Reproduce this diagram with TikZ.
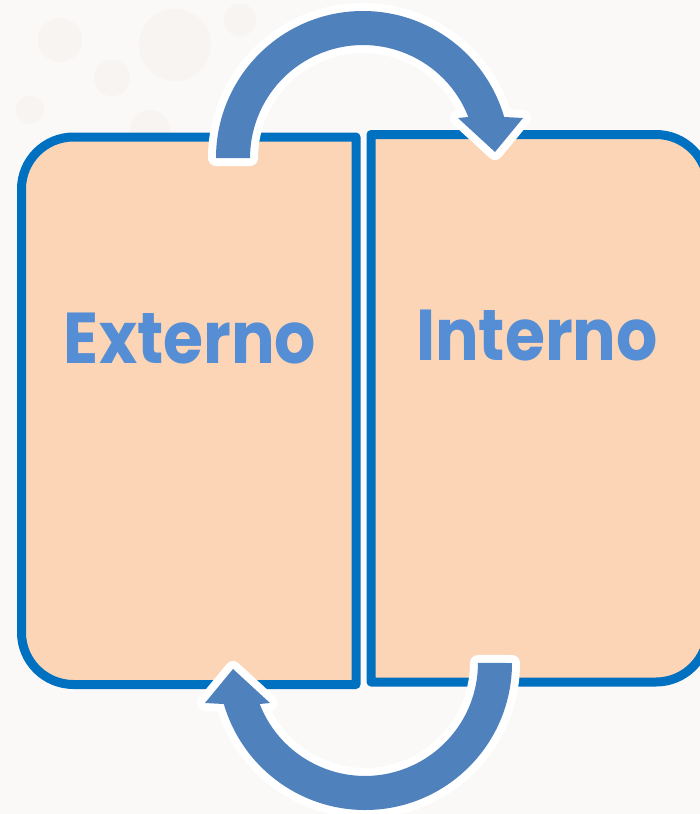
\documentclass[tikz,border=0pt]{standalone}
\usepackage{fontspec}
\setmainfont{Poppins}
\definecolor{panelfill}{HTML}{FBD5B5}
\definecolor{panelline}{HTML}{0070C0}
\definecolor{cycleblue}{HTML}{4F81BD}
\definecolor{labelblue}{HTML}{558ED5}
\definecolor{paper}{HTML}{FBF9F8}
\definecolor{paperspot}{HTML}{F7F4F1}
\begin{document}
\begin{tikzpicture}[x=1pt,y=-1pt,
  panel/.style={fill=panelfill, draw=panelline, line width=9pt, line join=round},
  cyclehalo/.style={fill=white, draw=white, line width=16pt, line join=round},
  cyclefill/.style={fill=cycleblue},
  caption/.style={text=labelblue, font=\fontsize{72}{72}\selectfont\bfseries, inner sep=0pt, anchor=base},
  cyclearrow/.pic={
    % curved block arrow around the origin: tail on the left, head on the right
    \path[cyclehalo] (180:147) arc[start angle=180,end angle=343.8,radius=147]
      -- (160,-40) -- (132,-6) -- (95,-40) -- (105.3,-41)
      arc[start angle=338.7,end angle=180,radius=113] -- cycle;
    \path[cyclefill] (180:147) arc[start angle=180,end angle=343.8,radius=147]
      -- (160,-40) -- (132,-6) -- (95,-40) -- (105.3,-41)
      arc[start angle=338.7,end angle=180,radius=113] -- cycle;
  }
]
\useasboundingbox (0,0) rectangle (700,814);
\clip (0,0) rectangle (700,814);
\fill[paper] (0,0) rectangle (700,814);
% faint paper texture
\foreach \cx/\cy/\r in {175/45/36, 112/78/18, 60/40/22, 240/20/16, 150/130/20, 30/110/14}
  \fill[paperspot] (\cx,\cy) circle[radius=\r];

% left panel: rounded on the outer (left) side
\draw[panel] (356,137) -- (73.5,137) arc[start angle=270,end angle=180,radius=52]
  -- (21.5,632.5) arc[start angle=180,end angle=90,radius=52] -- (356,684.5) -- cycle;
% right panel: rounded on the outer (right) side
\draw[panel] (371,134.5) -- (656,134.5) arc[start angle=270,end angle=360,radius=52]
  -- (708,630) arc[start angle=0,end angle=90,radius=52] -- (371,682) -- cycle;

\node[caption] (externo) at (190,363) {\scalebox{0.9}[1]{Externo}};
\node[caption] (interno) at (537,360) {\scalebox{0.9}[1]{Interno}};

% the two arrows closing the cycle
\pic (toparrow) at (363,158) {cyclearrow};
\pic[rotate=180] (bottomarrow) at (365,663) {cyclearrow};
\end{tikzpicture}
\end{document}
